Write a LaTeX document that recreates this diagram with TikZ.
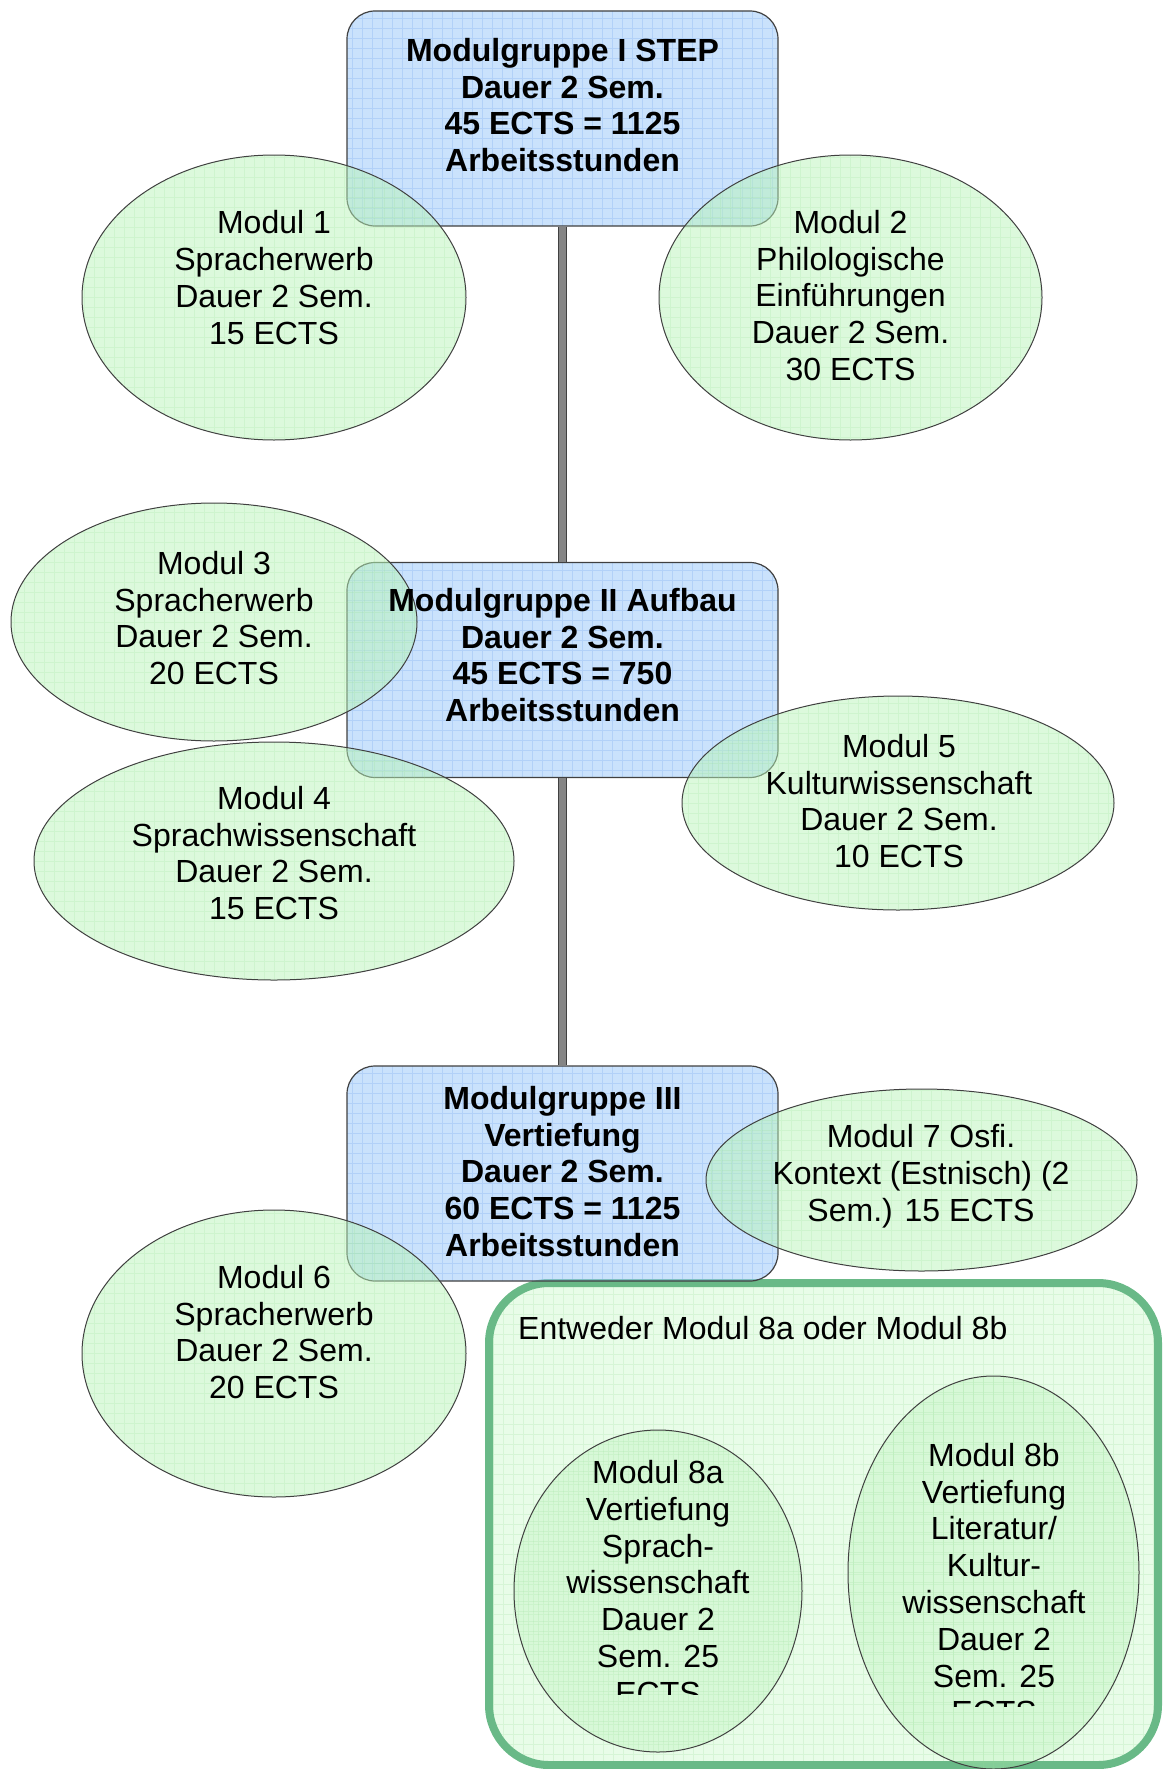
\documentclass[tikz,border=0pt]{standalone}
\usepackage{fontspec}
\setmainfont{Liberation Sans}
\usetikzlibrary{shapes.geometric}
\definecolor{boxfill}{RGB}{150,198,250}
\definecolor{boxgrid}{RGB}{120,170,240}
\definecolor{modfill}{RGB}{185,243,185}
\definecolor{modgrid}{RGB}{150,222,150}
\definecolor{outline}{RGB}{105,185,135}
\definecolor{outfill}{RGB}{232,252,232}
\definecolor{outgrid}{RGB}{175,232,175}
\begin{document}
\begin{tikzpicture}[x=1pt,y=-1pt,
  pgrid/.style 2 args={path picture={\draw[draw=#1, line width=0.6pt, draw opacity=#2, step=10pt] (path picture bounding box.south west) grid (path picture bounding box.north east);}},
  gbox/.style={draw=black!75, line width=1.2pt, rounded corners=28pt, fill=boxfill, fill opacity=0.5, minimum width=431pt, minimum height=215pt, inner sep=0pt, pgrid={boxgrid}{0.3}},
  mod/.style={ellipse, draw=black!75, line width=1pt, fill=modfill, fill opacity=0.5, inner sep=0pt, pgrid={modgrid}{0.2}},
  mods/.style={mod, fill opacity=0.35},
  outer/.style={draw=outline, line width=8pt, rounded corners=60pt, fill=outfill, inner sep=0pt, pgrid={outgrid}{0.3}},
  txt/.style={align=center, inner sep=0pt, font=\fontsize{32}{36.8}\selectfont},
  btxt/.style={txt, font=\fontsize{32}{36.8}\selectfont\bfseries},
  conn/.style={line width=9pt, draw=black!75},
  conninner/.style={line width=7pt, draw=black!48}
]
\useasboundingbox (0,0) rectangle (1162,1769);
% group box for 8a/8b
\node[outer, minimum width=669pt, minimum height=482pt] (grp) at (823.5,1524) {};
\node[txt, anchor=west] (grpt) at (518,1328) {Entweder Modul 8a oder Modul 8b};
% group boxes
\node[gbox] (g1) at (562.5,118.5) {};
\node[gbox] (g2) at (562.5,670) {};
\node[gbox] (g3) at (562.5,1173.5) {};
% connectors
\draw[conn] (g1.south) -- (g2.north);
\draw[conninner] (g1.south) -- (g2.north);
\draw[conn] (g2.south) -- (g3.north);
\draw[conninner] (g2.south) -- (g3.north);
% ellipses
\node[mod, minimum width=384pt, minimum height=285pt] (m1) at (274,297.5) {};
\node[mod, minimum width=383pt, minimum height=285pt] (m2) at (850.5,297.5) {};
\node[mod, minimum width=406pt, minimum height=238pt] (m3) at (214,622) {};
\node[mod, minimum width=480pt, minimum height=238pt] (m4) at (274,861) {};
\node[mod, minimum width=432pt, minimum height=214pt] (m5) at (898,803) {};
\node[mod, minimum width=431pt, minimum height=182pt] (m7) at (921.5,1180) {};
\node[mod, minimum width=384pt, minimum height=287pt] (m6) at (274,1353.5) {};
\node[mods, minimum width=288pt, minimum height=322pt] (m8a) at (658,1591) {};
\node[mods, minimum width=291pt, minimum height=393pt] (m8b) at (993.5,1572.5) {};
% texts
\node[btxt] (g1t) at (562.5,105) {Modulgruppe I STEP\\Dauer 2 Sem.\\45 ECTS = 1125\\Arbeitsstunden};
\node[btxt] (g2t) at (562.5,655) {Modulgruppe II Aufbau\\Dauer 2 Sem.\\45 ECTS = 750\\Arbeitsstunden};
\node[btxt] (g3t) at (562.5,1171.5) {Modulgruppe III\\Vertiefung\\Dauer 2 Sem.\\60 ECTS = 1125\\Arbeitsstunden};
\node[txt] (m1t) at (274,277.5) {Modul 1\\Spracherwerb\\Dauer 2 Sem.\\15 ECTS};
\node[txt] (m2t) at (850.5,295.5) {Modul 2\\Philologische\\Einführungen\\Dauer 2 Sem.\\30 ECTS};
\node[txt] (m3t) at (214,618) {Modul 3\\Spracherwerb\\Dauer 2 Sem.\\20 ECTS};
\node[txt] (m4t) at (274,853) {Modul 4\\Sprachwissenschaft\\Dauer 2 Sem.\\15 ECTS};
\node[txt] (m5t) at (899,801) {Modul 5\\Kulturwissenschaft\\Dauer 2 Sem.\\10 ECTS};
\node[txt] (m7t) at (921,1176) {Modul 7 Osfi.\\Kontext (Estnisch) (2\\Sem.) 15 ECTS};
\node[txt] (m6t) at (274,1332) {Modul 6\\Spracherwerb\\Dauer 2 Sem.\\20 ECTS};
\begin{scope}
\clip (500,1400) rectangle (820,1694);
\node[txt] (m8at) at (658,1582.5) {Modul 8a\\Vertiefung\\Sprach-\\wissenschaft\\Dauer 2\\Sem. 25\\ECTS};
\end{scope}
\begin{scope}
\clip (840,1370) rectangle (1150,1706);
\node[txt] (m8bt) at (994,1583.7) {Modul 8b\\Vertiefung\\Literatur/\\Kultur-\\wissenschaft\\Dauer 2\\Sem. 25\\ECTS};
\end{scope}
\end{tikzpicture}
\end{document}
